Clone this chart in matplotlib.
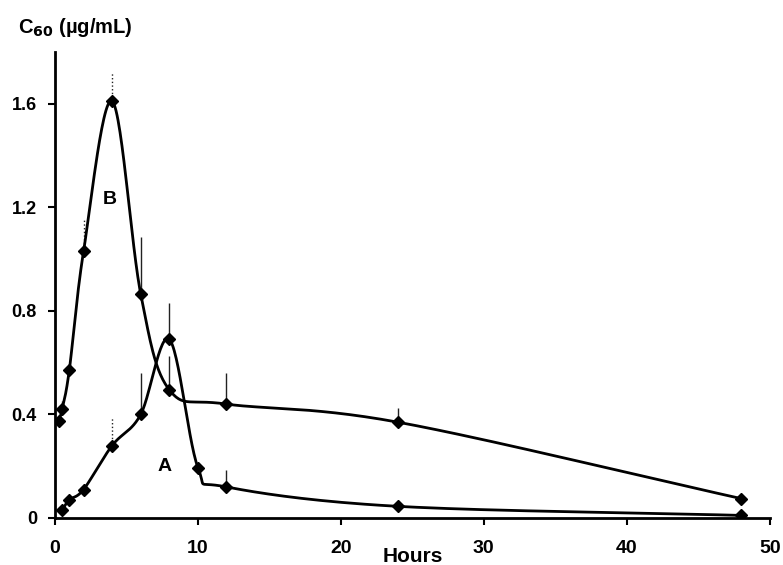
import numpy as np
import matplotlib
matplotlib.use("Agg")
import matplotlib.pyplot as plt

# curve B (early peak)
hours_b = [0.25, 0.5, 1, 2, 4, 6, 8, 12, 24, 48]
conc_b = [0.375, 0.42, 0.57, 1.03, 1.61, 0.865, 0.495, 0.44, 0.37, 0.075]
err_b = [0.0, 0.03, 0.0, 0.13, 0.11, 0.22, 0.13, 0.12, 0.055, 0.0]

# curve A (later peak)
hours_a = [0.5, 1, 2, 4, 6, 8, 10, 12, 24, 48]
conc_a = [0.03, 0.07, 0.11, 0.28, 0.40, 0.69, 0.195, 0.12, 0.045, 0.01]
err_a = [0.0, 0.0, 0.02, 0.11, 0.16, 0.14, 0.0, 0.065, 0.0, 0.0]

# dotted (faint) error bars
dotted_b = [False, False, False, True, True, False, False, False, False, False]
dotted_a = [False, False, False, True, False, False, False, False, False, False]

ytick_vals = [0, 0.4, 0.8, 1.2, 1.6]
xtick_vals = [0, 10, 20, 30, 40, 50]


def smooth(x, y, n=30):
    # Catmull-Rom curve through the points, like Excel's smoothed line
    x = np.asarray(x, float)
    y = np.asarray(y, float)
    px = np.concatenate([[2 * x[0] - x[1]], x, [2 * x[-1] - x[-2]]])
    py = np.concatenate([[2 * y[0] - y[1]], y, [2 * y[-1] - y[-2]]])
    xs, ys = [], []
    t = np.linspace(0, 1, n)
    for i in range(1, len(px) - 2):
        for p, out in ((px, xs), (py, ys)):
            p0, p1, p2, p3 = p[i - 1], p[i], p[i + 1], p[i + 2]
            seg = 0.5 * ((2 * p1) + (-p0 + p2) * t
                         + (2 * p0 - 5 * p1 + 4 * p2 - p3) * t ** 2
                         + (-p0 + 3 * p1 - 3 * p2 + p3) * t ** 3)
            out.extend(seg)
    return np.array(xs), np.array(ys)


plt.rcParams['font.family'] = ['Liberation Sans', 'DejaVu Sans']
plt.rcParams['font.weight'] = 'bold'

fig = plt.figure(figsize=(7.83, 5.65), dpi=100)
ax = fig.add_axes([0.0702, 0.0832, 0.9128, 0.8248])

for hx, cy, er, dots in ((hours_b, conc_b, err_b, dotted_b),
                         (hours_a, conc_a, err_a, dotted_a)):
    for xv, yv, ev, d in zip(hx, cy, er, dots):
        if ev > 0:
            ax.vlines(xv, yv, yv + ev, colors='#222222', lw=1.0,
                      linestyles=':' if d else '-')
    sx, sy = smooth(hx, cy)
    ax.plot(sx, sy, color='black', lw=2.0)
    ax.plot(hx, cy, linestyle='none', marker='D', ms=6.5, color='black')

ax.text(3.85, 1.23, 'B', fontsize=14, fontweight='bold', ha='center', va='center')
ax.text(7.7, 0.2, 'A', fontsize=14, fontweight='bold', ha='center', va='center')

ax.set_xlim(0, 50)
ax.set_ylim(0, 1.8)
ax.set_xticks(xtick_vals)
ax.set_yticks(ytick_vals)
ax.set_yticklabels(['0', '0.4', '0.8', '1.2', '1.6'])
ax.tick_params(width=1.5, length=5, direction='out')
ax.tick_params(axis='y', labelsize=13, pad=8)
ax.tick_params(axis='x', labelsize=14, pad=11)
for lab in ax.get_xticklabels() + ax.get_yticklabels():
    lab.set_fontweight('bold')

ax.spines['top'].set_visible(False)
ax.spines['right'].set_visible(False)
ax.spines['left'].set_linewidth(2)
ax.spines['bottom'].set_linewidth(2)

fig.text(0.023, 0.952, 'C$_{\\mathbf{60}}$ (µg/mL)', fontsize=14.5, fontweight='bold',
         ha='left', va='center')
ax.text(25.0, -0.148, 'Hours', fontsize=15, fontweight='bold', ha='center', va='center')

fig.savefig('out.png', dpi=100)
